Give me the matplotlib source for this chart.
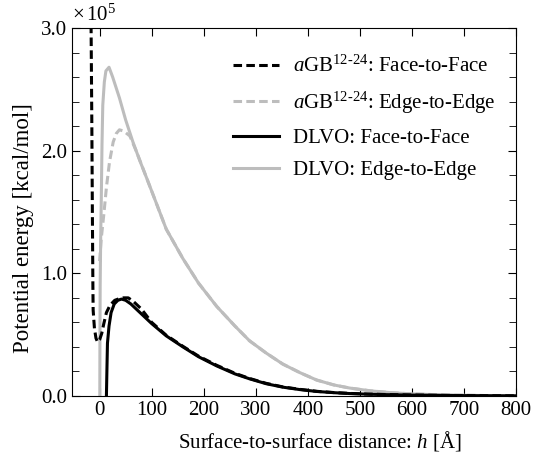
import matplotlib
matplotlib.use("Agg")
import matplotlib.pyplot as plt
from matplotlib.ticker import MultipleLocator

plt.rcParams['font.family'] = ['Liberation Serif', 'DejaVu Serif']
plt.rcParams['mathtext.fontset'] = 'custom'
plt.rcParams['mathtext.rm'] = 'Liberation Serif'
plt.rcParams['mathtext.it'] = 'Liberation Serif:italic'
plt.rcParams['font.size'] = 15

# values in units of 1e5 kcal/mol
# DLVO: Edge-to-Edge
h_dlvo_ee = [0, 0.5, 1, 2, 3, 4.5, 6, 9, 12, 18, 25, 38, 50, 64, 77, 90, 100, 128, 160, 190,
             225, 260, 288, 320, 352, 385, 417, 450, 480, 520, 560, 600, 650, 700, 750, 800]
e_dlvo_ee = [-0.5, 0.4, 0.9, 1.3, 1.56, 2.05, 2.37, 2.56, 2.65, 2.68, 2.6, 2.43, 2.25, 2.07, 1.92,
             1.78, 1.67, 1.36, 1.12, 0.92, 0.73, 0.57, 0.45, 0.35, 0.26, 0.19, 0.13, 0.09, 0.065,
             0.042, 0.027, 0.017, 0.01, 0.006, 0.003, 0.002]

# aGB 12-24: Edge-to-Edge
h_agb_ee = [0, 3, 8, 13, 19, 26, 32, 38, 46, 58, 71, 90, 100, 128, 160, 190,
            225, 260, 288, 320, 352, 385, 417, 450, 480, 520, 560, 600, 650, 700, 750, 800]
e_agb_ee = [1.1, 1.28, 1.48, 1.70, 1.91, 2.07, 2.14, 2.17, 2.16, 2.12, 1.99, 1.78, 1.67, 1.36,
            1.12, 0.92, 0.73, 0.57, 0.45, 0.35, 0.26, 0.19, 0.13, 0.09, 0.065, 0.042, 0.027,
            0.017, 0.01, 0.006, 0.003, 0.002]

# DLVO: Face-to-Face
h_dlvo_ff = [12.5, 13, 14, 15, 18, 22, 28, 35, 42, 50, 60, 75, 100, 128, 160, 190, 225, 260,
             288, 320, 352, 385, 417, 450, 480, 520, 560, 600, 650, 700, 750, 800]
e_dlvo_ff = [-0.3, 0.0, 0.22, 0.43, 0.57, 0.68, 0.75, 0.78, 0.79, 0.78, 0.75, 0.69, 0.59, 0.49,
             0.40, 0.32, 0.245, 0.18, 0.14, 0.10, 0.072, 0.052, 0.037, 0.027, 0.02, 0.014,
             0.01, 0.007, 0.005, 0.003, 0.002, 0.001]

# aGB 12-24: Face-to-Face
h_agb_ff = [-17, -15, -14, -13, -12.5, -10, -7, -4, 0, 4, 8, 13, 20, 29, 42, 55, 65, 80, 100,
            128, 160, 190, 225, 260, 288, 320, 352, 385, 417, 450, 480, 520, 560, 600, 650,
            700, 750, 800]
e_agb_ff = [3.3, 2.2, 1.5, 0.9, 0.7, 0.55, 0.47, 0.44, 0.46, 0.51, 0.59, 0.68, 0.74, 0.78,
            0.80, 0.80, 0.77, 0.71, 0.60, 0.495, 0.405, 0.325, 0.25, 0.185, 0.143, 0.103,
            0.074, 0.054, 0.038, 0.028, 0.021, 0.015, 0.011, 0.008, 0.005, 0.003, 0.002, 0.001]

gray = '#bdbdbd'
lw = 2.2
dash = (2.8, 1.4)

fig = plt.figure(figsize=(5.46, 4.55), dpi=100)
ax = fig.add_axes([0.132, 0.1297, 0.813, 0.8088])

ax.plot(h_dlvo_ee, e_dlvo_ee, color=gray, lw=lw, label='DLVO: Edge-to-Edge')
ax.plot(h_agb_ee, e_agb_ee, color=gray, lw=lw, dashes=dash,
        label=r'$a$GB$^{\text{12-24}}$: Edge-to-Edge')
ax.plot(h_dlvo_ff, e_dlvo_ff, color='black', lw=lw, label='DLVO: Face-to-Face')
ax.plot(h_agb_ff, e_agb_ff, color='black', lw=lw, dashes=dash,
        label=r'$a$GB$^{\text{12-24}}$: Face-to-Face')

ax.set_xlim(-53, 800)
ax.set_ylim(0, 3.0)
ax.xaxis.set_major_locator(MultipleLocator(100))
ax.yaxis.set_major_locator(MultipleLocator(1.0))
ax.yaxis.set_minor_locator(MultipleLocator(0.2))
ax.yaxis.set_major_formatter(plt.FormatStrFormatter('%.1f'))
ax.tick_params(which='both', direction='in', top=True, right=True, labelsize=15)
ax.tick_params(which='major', length=6)
ax.tick_params(which='minor', length=5)

ax.set_xlabel(r'Surface-to-surface distance: $h$ [Å]', fontsize=15)
ax.xaxis.set_label_coords(0.559, -0.09)
ax.set_ylabel('Potential energy [kcal/mol]', fontsize=16.5)
ax.yaxis.set_label_coords(-0.085, 0.457)
ax.text(0.0, 1.005, r'$\times\,10^5$', transform=ax.transAxes, fontsize=15,
        ha='left', va='bottom')

handles, labels = ax.get_legend_handles_labels()
order = [3, 1, 2, 0]
ax.legend([handles[i] for i in order], [labels[i] for i in order],
          loc='upper left', bbox_to_anchor=(0.32, 0.975), frameon=False,
          fontsize=15, handlelength=2.2, handletextpad=0.7, labelspacing=0.6)

fig.savefig('out.png', dpi=100)
